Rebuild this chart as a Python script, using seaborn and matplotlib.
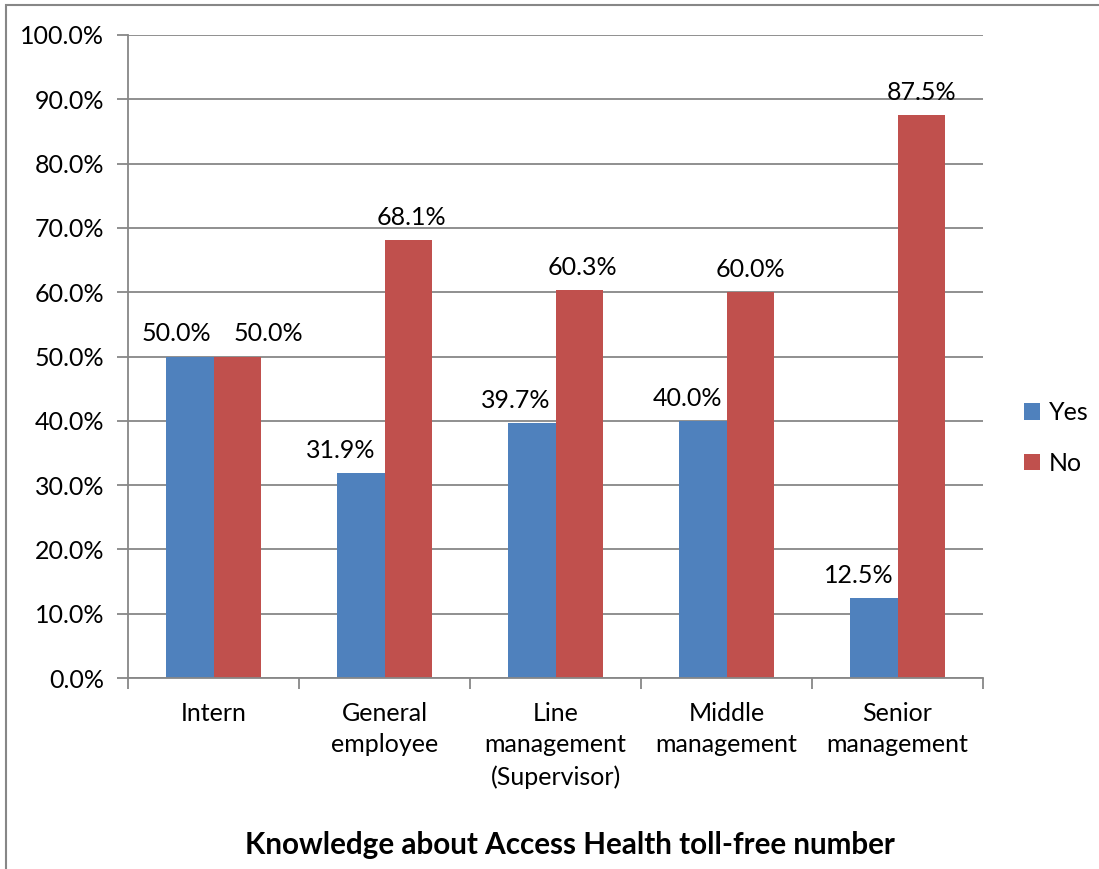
import pandas as pd
import numpy as np
import matplotlib.pyplot as plt
import seaborn as sns
from matplotlib.patches import Rectangle

categories = ['Intern', 'General\nemployee', 'Line\nmanagement\n(Supervisor)', 'Middle\nmanagement', 'Senior\nmanagement']
yes_values = [50.0, 31.9, 39.7, 40.0, 12.5]
no_values = [50.0, 68.1, 60.3, 60.0, 87.5]
series = ['Yes', 'No']
colors = ['#4F81BD', '#C0504D']

# horizontal nudges (px) of the value labels, like Excel moves them apart
yes_shift = [-13, -20, -16, -15, -15]
no_shift = [31, 3, 3, 0, 0]

df = pd.DataFrame({
    'Category': categories * 2,
    'Answer': ['Yes'] * len(categories) + ['No'] * len(categories),
    'Percent': yes_values + no_values,
})

sns.set_style('white')
plt.rcParams['font.family'] = ['Lato', 'DejaVu Sans']
plt.rcParams['text.color'] = 'black'

fs = 18
fig = plt.figure(figsize=(10.99, 8.69), dpi=100)
ax = fig.add_axes([128 / 1099, 1 - 678 / 869, 855 / 1099, 643 / 869])

sns.barplot(data=df, x='Category', y='Percent', hue='Answer', hue_order=series,
            palette=colors, width=0.561, ax=ax, saturation=1, linewidth=0)

for cont, shifts in zip(ax.containers, [yes_shift, no_shift]):
    for bar, dx in zip(cont, shifts):
        ax.annotate(f'{bar.get_height():.1f}%',
                    (bar.get_x() + bar.get_width() / 2, bar.get_height()),
                    xytext=(dx * 0.72, 8), textcoords='offset points',
                    ha='center', va='bottom', fontsize=fs)

grid_c = '#878787'
ax.set_ylim(0, 100)
ax.set_xlim(-0.5, len(categories) - 0.5)
ax.set_yticks(np.arange(0, 101, 10))
ax.set_yticklabels([f'{v:.1f}%' for v in np.arange(0, 101, 10)], fontsize=fs)
ax.yaxis.grid(True, color=grid_c, linewidth=1.3)
ax.set_axisbelow(True)
ax.tick_params(axis='y', length=8, width=1.3, color=grid_c, labelcolor='black', left=True, pad=9)
ax.set_xticks(range(len(categories)))
ax.set_xticklabels(categories, fontsize=fs, linespacing=1.45)
ax.set_xticks(np.arange(-0.5, len(categories), 1), minor=True)
ax.tick_params(axis='x', which='major', length=0, pad=17, labelcolor='black')
ax.tick_params(axis='x', which='minor', length=8, width=1.3, color=grid_c, bottom=True)
ax.set_xlabel('')
ax.set_ylabel('')
for s in ['top', 'right']:
    ax.spines[s].set_visible(False)
for s in ['left', 'bottom']:
    ax.spines[s].set_color(grid_c)
    ax.spines[s].set_linewidth(1.3)

ax.legend(loc='center left', bbox_to_anchor=(1.048, 0.373), frameon=False,
          fontsize=fs, handlelength=0.65, handleheight=0.65, borderpad=0,
          borderaxespad=0, labelspacing=1.1, handletextpad=0.35)

fig.text(570 / 1099, 1 - 845 / 869, 'Knowledge about Access Health toll-free number',
         ha='center', va='center', fontsize=21.3, fontweight='bold')

fig.patches.append(Rectangle((6 / 1099, -0.01), 1.1, 1 - 5 / 869 + 0.01,
                             transform=fig.transFigure, fill=False,
                             edgecolor=grid_c, linewidth=1.5))

fig.savefig('out.png', dpi=100)
